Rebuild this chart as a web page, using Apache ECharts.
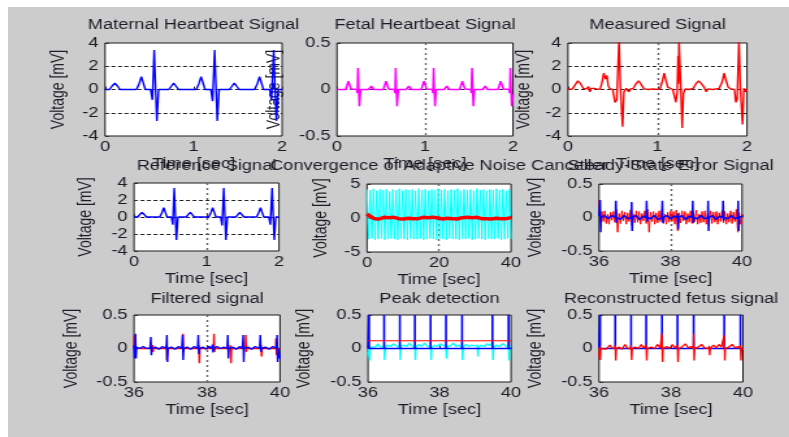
<!DOCTYPE html>
<html>
<head>
<meta charset="utf-8">
<script src="https://cdn.jsdelivr.net/npm/echarts@6/dist/echarts.min.js"></script>
<style>
html,body{margin:0;padding:0;background:#fff;width:789px;height:437px;overflow:hidden}
#bg{position:absolute;left:8px;top:7px;width:781px;height:430px;background:#cccccc}
#chart{position:absolute;left:0;top:0;width:607px;height:437px;transform:scaleX(1.3);transform-origin:0 0}
</style>
</head>
<body>
<div id="bg"></div>
<div id="chart"></div>
<script>
// ---------- tick / label data ----------
const titles = ["Maternal Heartbeat Signal","Fetal Heartbeat Signal","Measured Signal",
  "Reference Signal","Convergence of Adaptive Noise Canceller","Steady-State Error Signal",
  "Filtered signal","Peak detection","Reconstructed fetus signal"];
const xLabelText = "Time [sec]";
const yLabelText = "Voltage [mV]";
const xRanges = [[0,2,1],[0,2,1],[0,2,1],[0,2,1],[0,40,20],[36,40,2],[36,40,2],[36,40,2],[36,40,2]];
const yRanges = [[-4,4,2],[-0.5,0.5,0.5],[-4,4,2],[-4,4,2],[-5,5,5],[-0.5,0.5,0.5],[-0.5,0.5,0.5],[-0.5,0.5,0.5],[-0.5,0.5,0.5]];

// ---------- series data ----------
const maternalT = [0,0.05,0.08,0.11,0.14,0.17,0.355,0.385,0.41,0.43,0.455,0.515,0.535,0.555,0.57,0.585,0.605,0.72,0.75,0.775,0.80,0.83,1.03,1.06,1.085,1.105,1.13,1.195,1.215,1.238,1.253,1.268,1.288,1.405,1.435,1.46,1.485,1.515,1.69,1.72,1.745,1.765,1.79,1.86,1.88,1.905,1.92,1.935,1.955,2.0];
const maternalV = [0,0,0.3,0.55,0.3,0,0,0.5,1.1,0.6,0,0,-0.9,3.4,0.2,-2.7,0,0,0.3,0.55,0.3,0,0,0.5,1.1,0.6,0,0,-1.0,3.4,0.2,-2.7,0,0,0.3,0.55,0.3,0,0,0.5,1.1,0.6,0,0,-0.9,3.4,0.2,-2.7,0,0];

const fetal = [[0,0],[0.099,0],[0.129,0.09],[0.159,0.005],[0.224,0],[0.232,-0.04],[0.239,0.23],[0.247,0],[0.255,-0.18],[0.269,0],[0.359,0],[0.389,0.035],[0.419,0],
 [0.527,0],[0.557,0.09],[0.587,0.005],[0.652,0],[0.66,-0.04],[0.667,0.23],[0.675,0],[0.683,-0.18],[0.697,0],[0.787,0],[0.817,0.035],[0.847,0],
 [0.958,0],[0.988,0.09],[1.018,0.005],[1.083,0],[1.091,-0.04],[1.098,0.23],[1.106,0],[1.114,-0.18],[1.128,0],[1.218,0],[1.248,0.035],[1.278,0],
 [1.394,0],[1.424,0.09],[1.454,0.005],[1.519,0],[1.527,-0.04],[1.534,0.23],[1.542,0],[1.55,-0.18],[1.564,0],[1.654,0],[1.684,0.035],[1.714,0],
 [1.83,0],[1.86,0.09],[1.89,0.005],[1.955,0],[1.963,-0.04],[1.97,0.23],[1.978,0],[1.986,-0.18],[2.0,-0.05]];

const measuredT = [0,0.05,0.08,0.11,0.14,0.17,0.2,0.23,0.245,0.26,0.28,0.3,0.33,0.36,0.38,0.40,0.42,0.435,0.45,0.47,0.50,0.525,0.545,0.57,0.585,0.61,0.625,0.65,0.665,0.68,0.70,0.73,0.76,0.79,0.82,0.85,0.9,0.95,1.0,1.03,1.05,1.075,1.09,1.10,1.115,1.14,1.17,1.19,1.205,1.22,1.23,1.235,1.24,1.26,1.276,1.29,1.31,1.35,1.40,1.43,1.46,1.49,1.52,1.535,1.545,1.56,1.62,1.69,1.72,1.745,1.76,1.775,1.79,1.82,1.86,1.875,1.89,1.91,1.925,1.95,1.965,1.975,1.985,2.0];
const measuredV = [0,0.05,0.4,0.75,0.5,0.1,0.05,0.25,-0.2,0.1,-0.05,0.1,0,0.05,0.6,1.4,0.9,1.2,0.3,0.05,0,-1.1,-0.9,4.3,0.3,-3.2,-0.2,0.1,0.25,-0.2,0.05,0.1,0.5,0.75,0.4,0.05,0,0.05,0,0.1,0.6,1.4,0.9,1.0,0.2,0.05,0,-0.6,-1.1,-0.3,2.9,0.5,4.3,0.2,-3.3,-0.3,0.05,0,0.1,0.5,0.75,0.5,0.2,0.25,-0.2,0.05,0,0.1,0.6,1.4,0.9,1.0,0.2,0.05,0,-1.1,-0.8,4.3,0.2,-3.0,0.1,0.25,-0.2,0];

// convergence plot: reference (cyan) and error (red), evenly sampled over 0..40 s
const convergenceCyan = [4.2,-3.1,4.1,-3.0,4.3,-3.2,4.0,-3.1,4.2,-3.0,4.1,-3.2,4.2,-3.1,3.9,-3.0,4.2,-3.1,4.1,-3.2,4.3,-3.0,4.0,-3.1,4.2,-3.2,4.1,-3.0,4.2,-3.1,4.0,-3.1,4.3,-3.0,4.1,-3.2,4.2,-3.1,4.0,-3.0,4.2,-3.1,4.1,-3.2,4.3,-3.0,4.1,-3.1,4.2,-3.2,4.0,-3.0,4.2,-3.1,4.1,-3.1,4.3,-3.2,4.0,-3.0,4.2,-3.1,4.1,-3.0,4.2,-3.2,4.0,-3.1,4.3,-3.0,4.1,-3.1,4.2,-3.2,4.0,-3.0,4.2,-3.1,4.1,-3.1,4.3,-3.0,4.1,-3.2,4.2,-3.1,4.0,-3.0,4.2,-3.1];
const convergenceRed = [0.6,0.3,0.1,-0.1,0.1,-0.15,0.05,0.1,-0.1,0.05,-0.15,0.1,0.0,-0.1,0.1,-0.15,0.05,-0.05,0.1,-0.1,0.1,-0.1,0.0,0.1,-0.15,0.05,-0.1,0.1,-0.1,0.0,0.1,-0.15,0.05,-0.05,0.1,-0.1,0.1,-0.15,0.0,0.05,-0.1,0.1,-0.1,0.05,-0.15,0.1,0.0,-0.1,0.1,-0.1,0.05,-0.15,0.1,-0.05,0.05,-0.1,0.1,-0.1,0.0,0.05];
const convergenceSpan = [0, 40];

// steady-state error (red, sampled every 0.04 s from 36 s) and blue fetal component
const errorRed = [0.25,-0.08,0.09,-0.06,0.1,-0.09,0.05,-0.1,0.08,-0.04,0.09,-0.07,0.12,-0.22,0.06,-0.09,0.1,-0.05,0.08,-0.1,0.07,-0.06,0.11,-0.12,0.05,-0.08,0.1,-0.07,0.09,-0.1,0.06,-0.05,0.1,-0.09,0.12,-0.22,0.08,-0.06,0.09,-0.1,0.07,-0.08,0.1,-0.06,0.12,-0.09,0.05,-0.1,0.08,-0.07,0.1,-0.06,0.09,-0.1,0.11,-0.2,0.07,-0.08,0.1,-0.05,0.09,-0.1,0.06,-0.07,0.1,-0.09,0.08,-0.06,0.11,-0.1,0.05,-0.08,0.09,-0.07,0.1,-0.1,0.06,-0.05,0.1,-0.09,0.08,-0.07,0.09,-0.1,0.07,-0.06,0.1,-0.08,0.09,-0.1,0.06,-0.07,0.1,-0.09,0.08,-0.06,0.12,-0.22,0.07,-0.1,0.05];
const errorSpan = [36, 40];
const errorBlue = [[36.0,0.02],[36.02,0],[36.03,0.26],[36.045,-0.22],[36.06,0],[36.15,0.03],[36.25,-0.02],[36.35,0.03],
 [36.46,0],[36.47,0.25],[36.485,-0.08],[36.5,0],[36.6,-0.03],[36.7,0.03],[36.8,-0.02],
 [36.9,0],[36.91,0.23],[36.925,-0.2],[36.94,0],[37.03,0.03],[37.13,-0.03],[37.23,0.02],
 [37.32,0],[37.33,0.25],[37.345,-0.06],[37.36,0],[37.45,-0.02],[37.55,0.03],[37.65,-0.03],
 [37.76,0],[37.77,0.25],[37.785,-0.08],[37.8,0],[37.9,0.03],[38.0,-0.02],[38.1,0.02],
 [38.19,0],[38.2,0.06],[38.215,-0.18],[38.23,0],[38.32,0.03],[38.42,-0.03],[38.52,0.02],
 [38.61,0],[38.62,0.25],[38.635,-0.08],[38.65,0],[38.75,-0.02],[38.85,0.03],[38.95,-0.02],
 [39.04,0],[39.05,0.25],[39.065,-0.2],[39.08,0],[39.17,0.03],[39.27,-0.03],[39.37,0.02],
 [39.46,0],[39.47,0.25],[39.485,-0.05],[39.5,0],[39.6,-0.02],[39.7,0.03],[39.8,-0.02],
 [39.88,0],[39.89,0.25],[39.905,-0.2],[39.92,0],[40.0,0.02]];

// filtered signal
const filteredBlue = [[36.0,0.05],[36.02,-0.15],[36.04,0.22],[36.055,-0.15],[36.07,0.02],[36.15,0],[36.25,0.03],[36.35,0],[36.44,0.01],[36.46,0.17],[36.475,-0.1],[36.49,0],[36.58,0.02],[36.68,-0.01],[36.78,0.03],[36.88,0],[36.9,0.2],[36.915,-0.2],[36.93,0],[37.02,0.02],[37.12,-0.01],[37.22,0.03],[37.31,0],[37.33,0.2],[37.345,-0.17],[37.36,0],[37.45,0.02],[37.55,-0.01],[37.65,0.03],[37.74,0],[37.76,0.2],[37.775,-0.08],[37.79,0],[37.88,0.02],[37.98,-0.01],[38.06,0.03],[38.13,0],[38.15,0.06],[38.165,-0.06],[38.18,0],[38.27,0.03],[38.37,0],[38.46,0.02],[38.55,0],[38.57,0.2],[38.585,-0.15],[38.6,0],[38.7,0.02],[38.8,-0.01],[38.9,0.03],[38.97,0],[38.99,0.2],[39.005,-0.2],[39.02,0],[39.12,0.02],[39.22,-0.01],[39.32,0.03],[39.44,0],[39.46,0.2],[39.475,-0.05],[39.49,0],[39.6,0.02],[39.7,-0.01],[39.8,0.03],[39.9,0],[39.92,0.2],[39.935,-0.2],[39.95,0],[40.0,-0.15]];
const filteredRed = [[36.0,0],[36.01,0.2],[36.025,-0.12],[36.04,0],[36.5,0],[36.51,0.05],[36.52,-0.05],[36.53,0],[36.88,0],[36.885,0.05],[36.895,-0.18],[36.91,0],[37.33,0],[37.34,0.22],[37.355,-0.05],[37.37,0],[37.76,0],[37.775,0.05],[37.79,-0.22],[37.805,0],[38.18,0],[38.19,0.22],[38.205,-0.05],[38.22,0],[38.63,0],[38.64,0.05],[38.655,-0.22],[38.67,0],[39.05,0],[39.06,0.2],[39.075,-0.05],[39.09,0],[39.47,0],[39.48,0.05],[39.495,-0.12],[39.51,0],[39.88,0],[39.89,0.15],[39.905,-0.1],[39.92,0],[40.0,0]];

// peak detection
const peakSignal = [[36.0,-0.05],[36.02,-0.12],[36.03,0.05],[36.045,-0.18],[36.06,0.02],[36.12,0.04],[36.2,0.02],[36.28,0.07],[36.33,0.03],[36.4,0.05],[36.44,0.02],[36.45,0.08],[36.465,-0.17],[36.48,0.02],[36.55,0.05],[36.63,0.03],[36.7,0.07],[36.78,0.04],[36.85,0.05],[36.88,0.02],[36.89,0.09],[36.905,-0.17],[36.92,0.03],[37.0,0.05],[37.08,0.03],[37.15,0.08],[37.22,0.04],[37.28,0.03],[37.3,0.02],[37.31,0.07],[37.325,-0.17],[37.34,0.02],[37.42,0.06],[37.5,0.03],[37.58,0.08],[37.65,0.04],[37.72,0.05],[37.74,0.02],[37.75,0.09],[37.765,-0.17],[37.78,0.02],[37.86,0.05],[37.94,0.03],[38.02,0.07],[38.1,0.04],[38.16,0.05],[38.17,0.02],[38.18,0.06],[38.195,-0.15],[38.21,0.03],[38.3,0.04],[38.38,0.08],[38.46,0.03],[38.54,0.05],[38.6,0.04],[38.62,0.02],[38.63,0.09],[38.645,-0.17],[38.66,0.02],[38.74,0.06],[38.82,0.03],[38.9,0.05],[38.98,0.04],[39.03,0.03],[39.05,0.02],[39.06,0.05],[39.075,-0.12],[39.09,0.02],[39.17,0.05],[39.25,0.03],[39.33,0.07],[39.4,0.04],[39.45,0.03],[39.47,0.02],[39.48,0.09],[39.495,-0.17],[39.51,0.02],[39.6,0.05],[39.68,0.03],[39.76,0.07],[39.84,0.04],[39.9,0.03],[39.92,0.02],[39.93,0.07],[39.945,-0.18],[39.96,0.02],[40.0,0.04]];
const peakTimes = [36.03,36.45,36.89,37.31,37.75,38.18,38.63,39.48,39.93];
const peakHeights = [0.5,0.5,0.5,0.5,0.5,0.5,0.5,0.5,0.5];
const threshold = 0.115;

// reconstructed fetus signal
const reconstructed = [[36.0,-0.05],[36.01,-0.15],[36.02,0.03],[36.035,-0.17],[36.05,0],[36.12,0.02],[36.2,-0.01],[36.3,0.05],[36.36,0.01],[36.42,0.02],[36.44,0],[36.45,0.05],[36.465,-0.18],[36.48,0],[36.56,0.02],[36.64,-0.01],[36.72,0.06],[36.8,0],[36.86,0.02],[36.88,0],[36.89,0.05],[36.905,-0.17],[36.92,0],[37.0,0.02],[37.1,0],[37.17,0.06],[37.24,0.01],[37.29,0],[37.31,0.05],[37.325,-0.18],[37.34,0],[37.45,0.02],[37.55,0],[37.62,0.06],[37.7,0.01],[37.74,0],[37.75,0.22],[37.765,-0.2],[37.78,0],[37.88,0.03],[37.96,0],[38.04,0.06],[38.1,0.01],[38.17,0],[38.18,0.05],[38.195,-0.2],[38.21,0],[38.3,0.02],[38.4,0.07],[38.48,0.01],[38.56,0.03],[38.62,0],[38.63,0.22],[38.645,-0.18],[38.66,0],[38.75,0.02],[38.85,0.06],[38.93,0.01],[39.0,0.03],[39.05,0],[39.06,0.04],[39.075,-0.1],[39.09,0],[39.18,0.05],[39.26,0.01],[39.33,0.06],[39.4,0.02],[39.47,0],[39.48,0.2],[39.495,-0.18],[39.51,0],[39.6,0.02],[39.7,0.06],[39.78,0.01],[39.86,0.03],[39.92,0],[39.93,0.05],[39.945,-0.18],[39.96,0],[40.0,-0.02]];

// ---------- helpers ----------
const zip = (t, v) => t.map((x, i) => [x, v[i]]);
const sampled = (vals, span) => vals.map((v, i) => [span[0] + (span[1] - span[0]) * i / (vals.length - 1), v]);
function stems(times, heights, span) {
  const out = [[span[0], 0]];
  times.forEach((t, i) => { out.push([t, 0], [t, heights[i]], [t, 0]); });
  out.push([span[1], 0]);
  return out;
}

// ---------- layout ----------
const FONT = "'Liberation Sans', Arial, sans-serif";
const TXT = '#1c1c26';
const grids = [
  {left:80.8, top:43, width:136.2, height:93},
  {left:259.2, top:43, width:135.4, height:93},
  {left:436.9, top:43, width:137.7, height:93},
  {left:103.1, top:183, width:111.5, height:68},
  {left:282.3, top:184, width:110.8, height:68},
  {left:460.8, top:184, width:110, height:67},
  {left:103.1, top:315, width:112.3, height:67},
  {left:283.1, top:315, width:110, height:67},
  {left:460.8, top:315, width:110.7, height:67}
];
const yNameGap = [29, 41, 27, 30, 28, 41.5, 41, 41.5, 42];
const titleTop = [18, 18, 18, 159, 159, 159, 292, 292, 292];
const gridX = [false, true, true, true, true, true, true, false, false];
const gridY = [true, true, true, true, false, false, false, false, false];

const option = {
  animation: false,
  backgroundColor: 'transparent',
  textStyle: {fontFamily: FONT},
  title: titles.map((t, i) => ({
    text: t, left: grids[i].left + grids[i].width / 2, top: titleTop[i], textAlign: 'center', padding: 0,
    textStyle: {fontSize: 14, fontWeight: 'normal', color: TXT, fontFamily: FONT}
  })),
  grid: grids.map(g => Object.assign({show: true, backgroundColor: '#ffffff', borderColor: '#1a1a1a', borderWidth: 1, containLabel: false}, g)),
  xAxis: xRanges.map((r, i) => ({
    type: 'value', gridIndex: i, min: r[0], max: r[1], interval: r[2],
    name: xLabelText, nameLocation: 'middle', nameGap: 21,
    nameTextStyle: {fontSize: 14, color: TXT, fontFamily: FONT},
    axisLine: {show: false},
    axisTick: {show: true, inside: true, length: 3, lineStyle: {color: '#333'}},
    axisLabel: {fontSize: 14, color: TXT, margin: 4, fontFamily: FONT},
    splitLine: {show: gridX[i], showMinLine: false, showMaxLine: false, lineStyle: {color: '#666', width: 1.4, type: [2, 3]}}
  })),
  yAxis: yRanges.map((r, i) => ({
    type: 'value', gridIndex: i, min: r[0], max: r[1], interval: r[2],
    name: yLabelText, nameLocation: 'middle', nameGap: yNameGap[i],
    nameTextStyle: {fontSize: 14, color: TXT, fontFamily: FONT},
    axisLine: {show: false},
    axisTick: {show: true, inside: true, length: 3, lineStyle: {color: '#333'}},
    axisLabel: {fontSize: 14, color: TXT, margin: 5, fontFamily: FONT},
    splitLine: {show: gridY[i], showMinLine: false, showMaxLine: false, lineStyle: {color: '#222', width: 1, type: [3, 2]}}
  })),
  series: []
};

function line(idx, data, color, width) {
  option.series.push({type: 'line', xAxisIndex: idx, yAxisIndex: idx, data: data, showSymbol: false, symbol: 'none',
    silent: true, clip: true, lineStyle: {color: color, width: width || 1.3}, itemStyle: {color: color}});
}

const BLUE = '#0000ff', RED = '#ff0000', MAG = '#ff00ff', CYAN = '#00ffff';
line(0, zip(maternalT, maternalV), BLUE, 1.4);
line(1, fetal, MAG, 1.5);
line(2, zip(measuredT, measuredV), RED, 1.4);
line(3, zip(maternalT, maternalV), BLUE, 1.4);
line(4, sampled(convergenceCyan, convergenceSpan), CYAN, 1);
line(4, sampled(convergenceRed, convergenceSpan), RED, 3.5);
line(5, sampled(errorRed, errorSpan), RED, 1);
line(5, errorBlue, BLUE, 1.5);
line(6, filteredRed, RED, 1.4);
line(6, filteredBlue, BLUE, 1.4);
line(7, peakSignal, CYAN, 1.4);
line(7, stems(peakTimes, peakHeights, errorSpan), BLUE, 1.6);
line(7, [[36, threshold], [40, threshold]], RED, 1);
line(8, stems(peakTimes, peakHeights, errorSpan), BLUE, 1.6);
line(8, reconstructed, RED, 1.3);

const chart = echarts.init(document.getElementById('chart'), null, {renderer: 'canvas'});
chart.setOption(option);
</script>
</body>
</html>
